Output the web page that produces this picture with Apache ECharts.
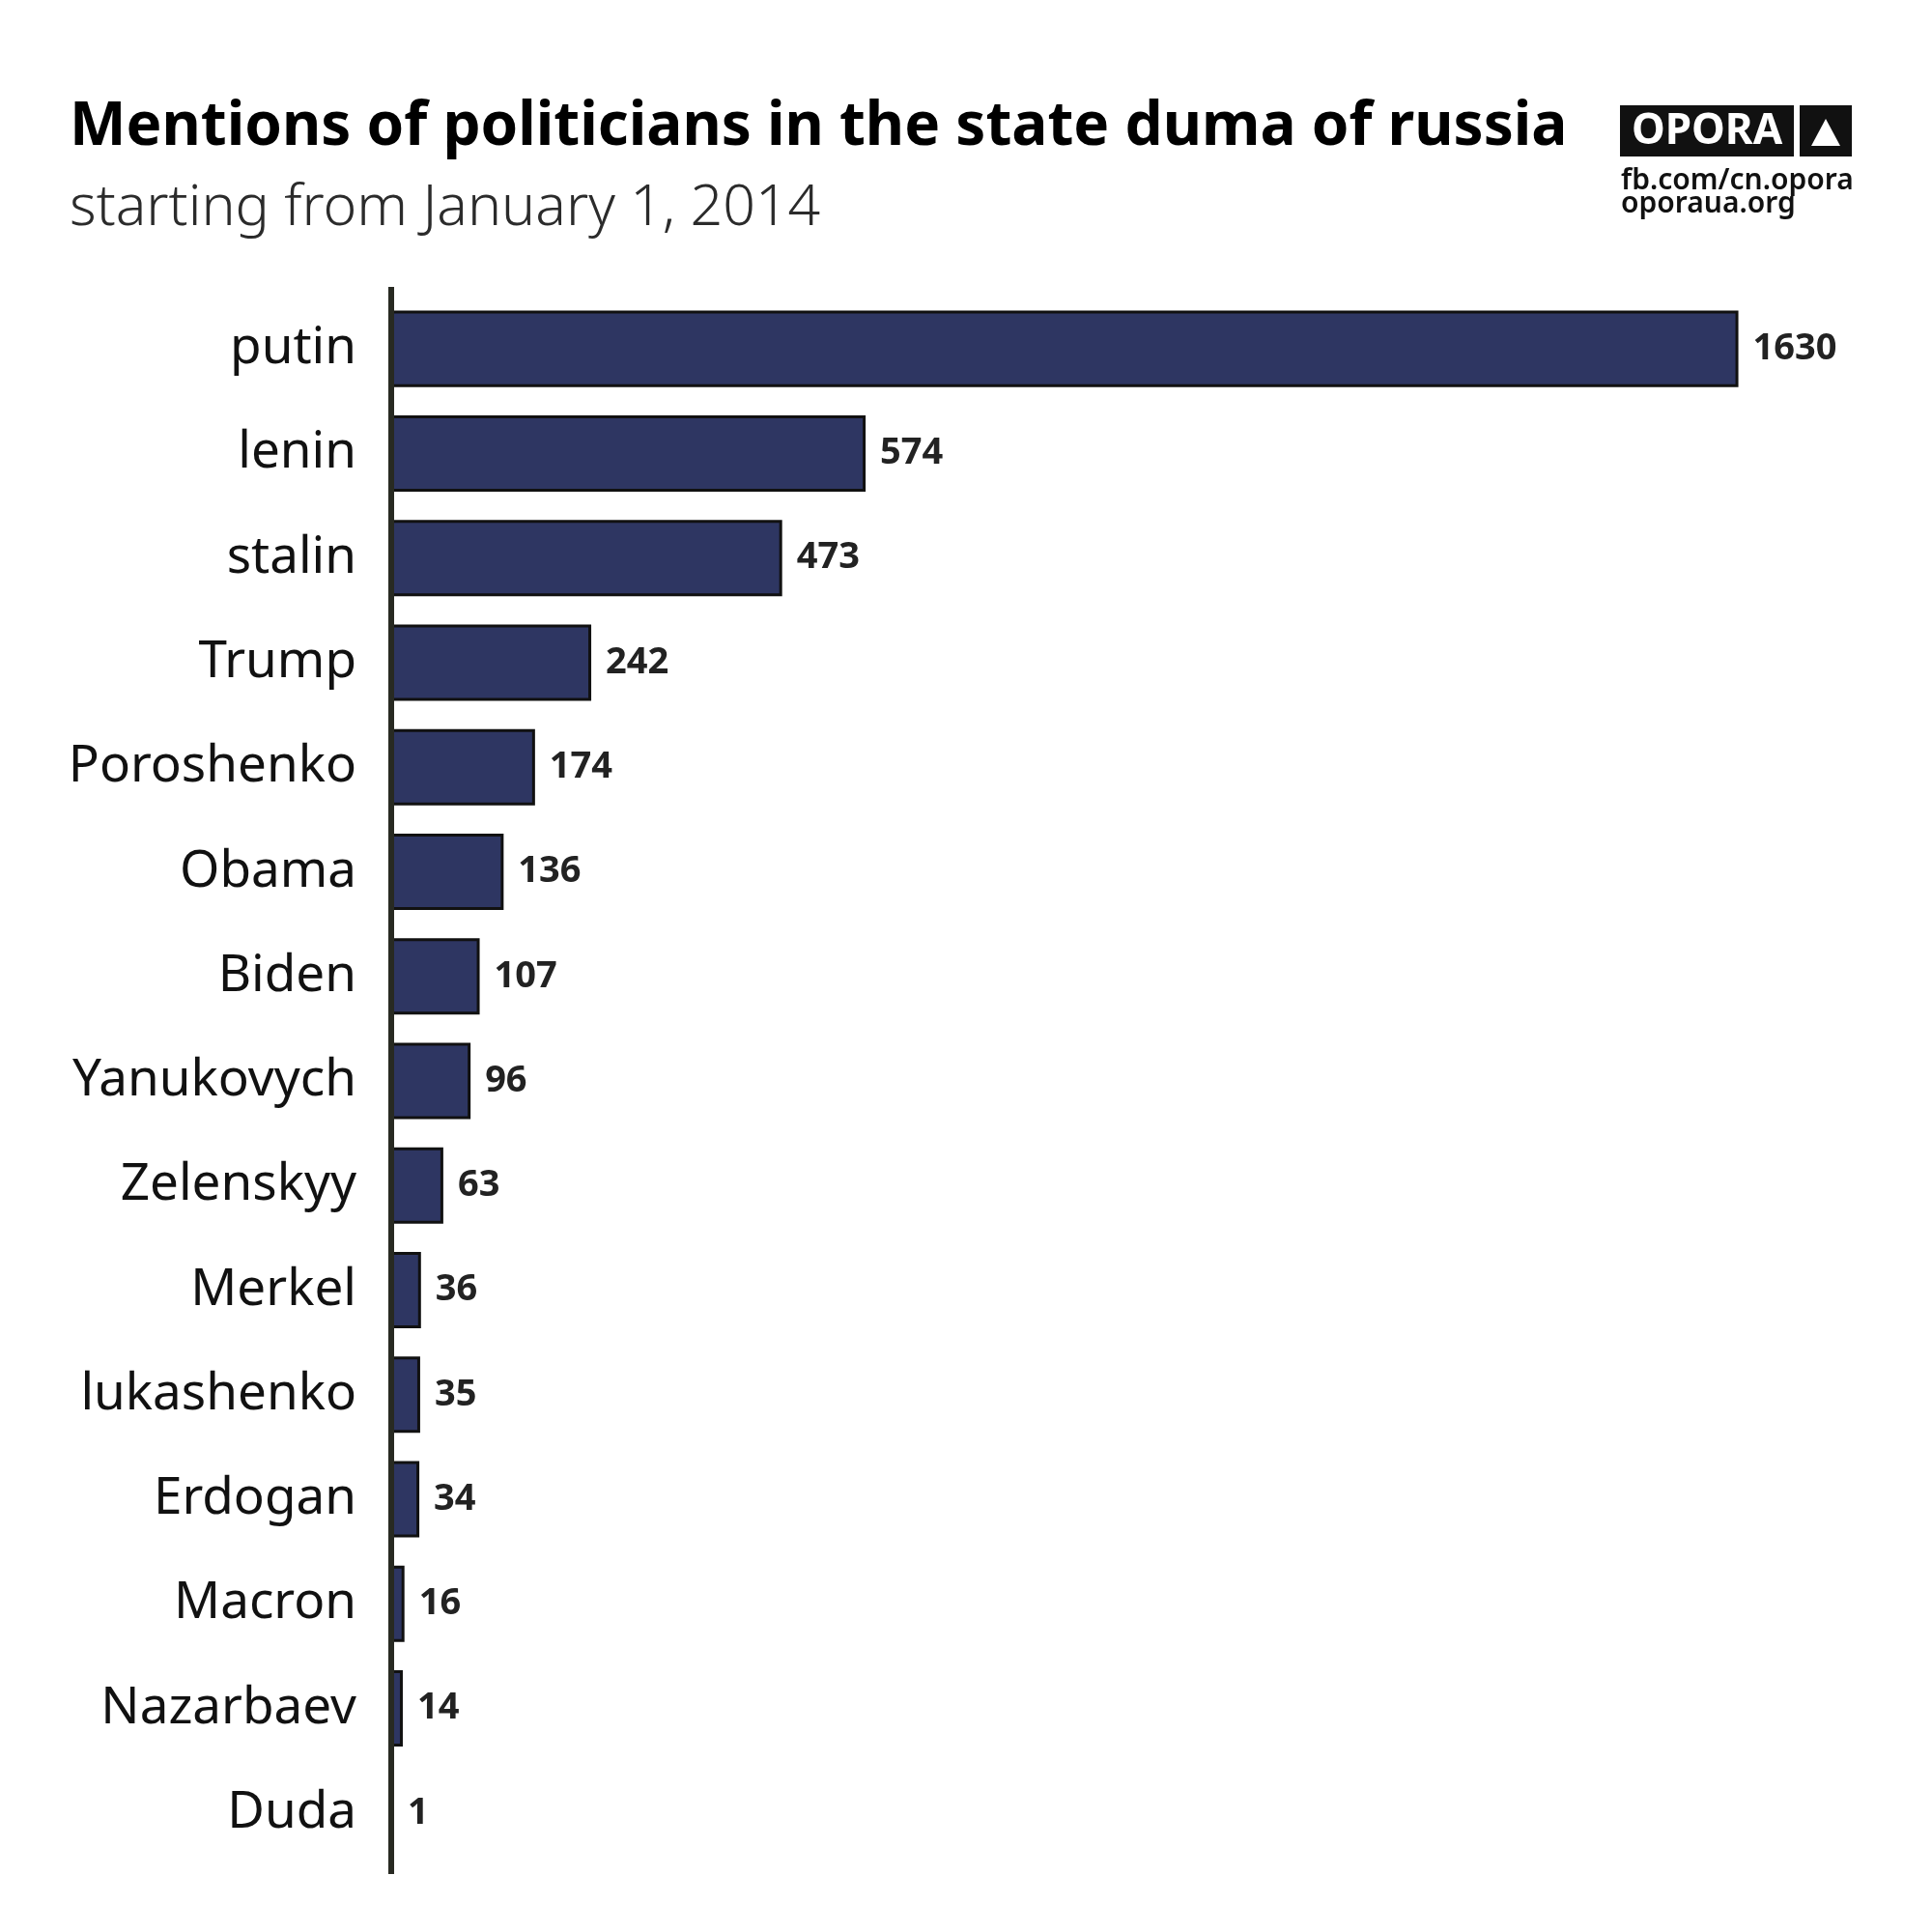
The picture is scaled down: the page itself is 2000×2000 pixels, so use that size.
<!DOCTYPE html>
<html>
<head>
<meta charset="utf-8">
<script src="https://cdn.jsdelivr.net/npm/echarts@6/dist/echarts.min.js"></script>
<style>
html,body{margin:0;padding:0;background:#fff;}
#main{width:2000px;height:2000px;}
</style>
</head>
<body>
<div id="main"></div>
<script>
const categories = ['putin','lenin','stalin','Trump','Poroshenko','Obama','Biden','Yanukovych','Zelenskyy','Merkel','lukashenko','Erdogan','Macron','Nazarbaev','Duda'];
const mentions = [1630,574,473,242,174,136,107,96,63,36,35,34,16,14,1];
const titleText = 'Mentions of politicians in the state duma of russia';
const subtitleText = 'starting from January 1, 2014';

const chart = echarts.init(document.getElementById('main'), null, {renderer:'canvas'});
chart.setOption({
  backgroundColor:'#ffffff',
  animation:false,
  title:[
    {text:titleText,left:72,top:101,padding:0,textStyle:{fontFamily:'Noto Sans',fontWeight:'bold',fontSize:62,color:'#000'}},
    {text:subtitleText,left:72,top:187,padding:0,textStyle:{fontFamily:'Noto Sans',fontWeight:300,fontSize:59,color:'#2b2b2b'}}
  ],
  grid:{left:405,right:55,top:307,bottom:69,containLabel:false},
  xAxis:{type:'value',min:0,max:1800,show:false},
  yAxis:{
    type:'category',data:categories,inverse:true,
    axisLine:{show:false},
    axisTick:{show:false},
    axisLabel:{fontFamily:'Noto Sans',fontSize:53,color:'#111',margin:36,padding:[8,0,0,0]}
  },
  series:[{
    type:'bar',data:mentions,barCategoryGap:'27%',
    itemStyle:{color:'#2e3662',borderColor:'#111',borderWidth:3},
    label:{show:true,position:'right',distance:15,padding:[7,0,0,0],fontFamily:'Noto Sans',fontWeight:'bold',fontSize:38,color:'#222'}
  }],
  graphic:[
    {type:'line',z:10,shape:{x1:405,y1:297,x2:405,y2:1940},style:{stroke:'#282a22',lineWidth:6}},
    {type:'rect',shape:{x:1677,y:109,width:180,height:53},style:{fill:'#111'}},
    {type:'text',style:{x:1767,y:136,text:'OPORA',fill:'#fff',font:'bold 44px "Noto Sans"',textAlign:'center',textVerticalAlign:'middle'}},
    {type:'rect',shape:{x:1863,y:109,width:54,height:53},style:{fill:'#111'}},
    {type:'polygon',shape:{points:[[1890,123],[1905,151],[1875,151]]},style:{fill:'#fff'}},
    {type:'text',style:{x:1678,y:172,text:'fb.com/cn.opora',fill:'#111',font:'600 30px "Noto Sans"'}},
    {type:'text',style:{x:1678,y:196,text:'oporaua.org',fill:'#111',font:'600 30px "Noto Sans"'}}
  ]
});
</script>
</body>
</html>
